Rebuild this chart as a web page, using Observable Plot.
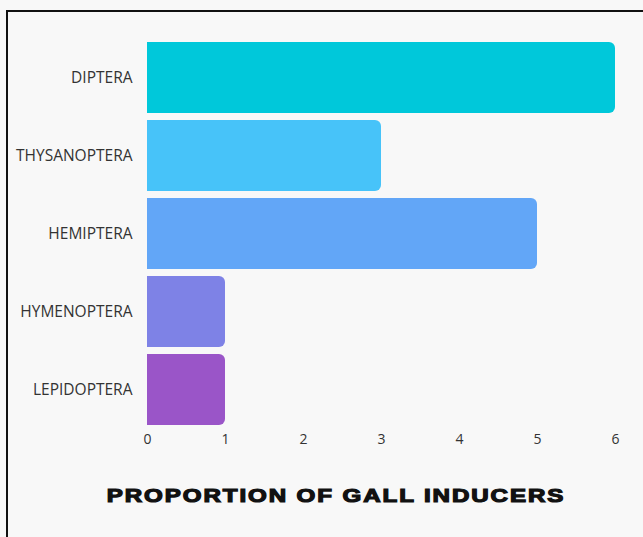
<!DOCTYPE html>
<html>
<head>
<meta charset="utf-8">
<script src="https://cdn.jsdelivr.net/npm/d3@7"></script>
<script src="https://cdn.jsdelivr.net/npm/@observablehq/plot@0.6"></script>
<style>
  html, body { margin: 0; padding: 0; background: #f8f8f8; }
  body { width: 643px; height: 537px; position: relative; overflow: hidden; }
  #frame { position: absolute; left: 6px; top: 10px; width: 660px; height: 560px;
           border-left: 2px solid #111; border-top: 2px solid #111; pointer-events: none; }
  #chart { position: absolute; left: 0; top: 0; }
  #title { position: absolute; left: 336px; top: 485px; white-space: nowrap;
           font-family: "Liberation Sans", Arial, sans-serif; font-weight: 900; font-size: 19px;
           letter-spacing: 1.5px; color: #111; -webkit-text-stroke: 1.2px #111;
           transform: translateX(-50%) scaleX(1.27); transform-origin: center; }
</style>
</head>
<body>
<div id="chart"></div>
<div id="title">PROPORTION OF GALL INDUCERS</div>
<div id="frame"></div>
<script>
const orders = ["DIPTERA", "THYSANOPTERA", "HEMIPTERA", "HYMENOPTERA", "LEPIDOPTERA"];
const counts = [6, 3, 5, 1, 1];
const colors = ["#00C8DA", "#47C3F9", "#62A6F7", "#7E82E6", "#9A55C8"];
const xTicks = [0, 1, 2, 3, 4, 5, 6];

const data = orders.map((o, i) => ({order: o, count: counts[i], color: colors[i]}));

const chart = Plot.plot({
  width: 643,
  height: 455,
  marginTop: 40,
  marginBottom: 28,
  marginLeft: 147,
  marginRight: 28,
  style: {background: "transparent", fontFamily: "Open Sans, sans-serif", fontSize: "14px", color: "#333"},
  x: {domain: [0, 6], ticks: xTicks, tickFormat: d3.format("d"), label: null, grid: false},
  y: {domain: orders, label: null, paddingInner: 0.09, paddingOuter: 0, round: true},
  marks: [
    Plot.ruleX(xTicks.filter(d => d > 0), {y1: 41, y2: 427, stroke: "#d8d8d8", strokeWidth: 1}),
    Plot.barX(data, {y: "order", x: "count", fill: "color", rx: 6}),
    Plot.barX(data, {y: "order", x1: 0, x2: d => d.count / 2, fill: "color"}),
    Plot.axisX({ticks: xTicks, tickFormat: d3.format("d"), tickSize: 0, tickPadding: 7, fontSize: 14, label: null}),
    Plot.axisY({tickSize: 0, tickPadding: 15, fontSize: 15.5, label: null,
                style: {letterSpacing: "1.1px"}})
  ]
});
document.getElementById("chart").appendChild(chart);
</script>
</body>
</html>
